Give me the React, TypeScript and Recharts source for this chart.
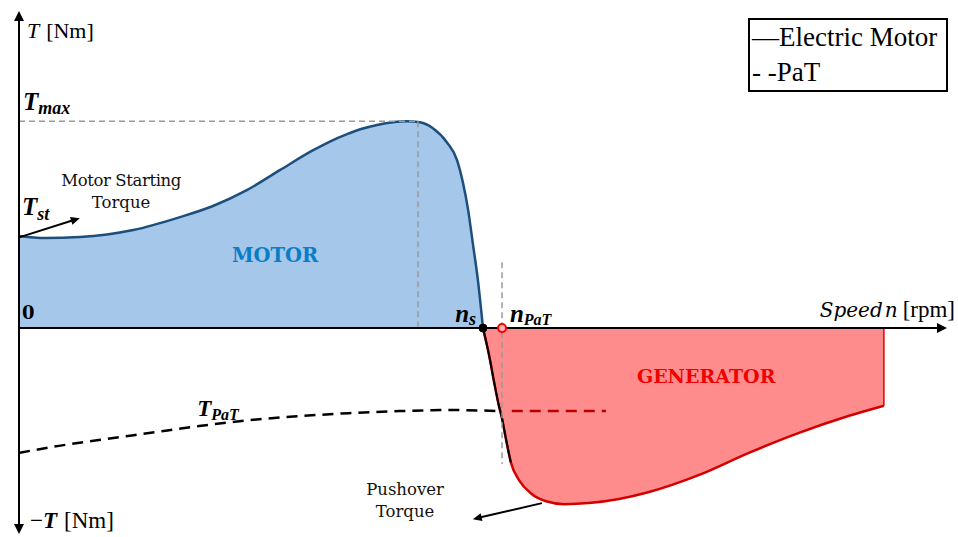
import React from 'react';
import {
  ComposedChart,
  Area,
  Line,
  XAxis,
  YAxis,
  ReferenceLine,
  ReferenceDot,
  Legend,
} from 'recharts';

const TIMES = '"Liberation Serif", "Times New Roman", serif';
const CAMBRIA = '"DejaVu Serif", "Liberation Serif", serif';

// Axis extents (speed in rpm, torque in Nm)
const SPEED_MAX = 2000;
const TORQUE_MIN = -100;
const TORQUE_MAX = 154;

// Electric motor: motoring branch (0 .. n_s)
const motorSpeed = [0, 56, 131, 246, 347, 418, 491, 562, 634, 670, 707, 739, 774, 806, 836, 864, 892, 922, 944, 957, 968, 978, 989, 1000];
const motorTorque = [44.7, 43.7, 44.2, 47.6, 53.9, 59.3, 67.0, 76.7, 86.4, 90.6, 94.2, 96.8, 98.8, 100.0, 100.5, 100.0, 97.1, 90.3, 81.6, 70.4, 57.3, 41.3, 23.3, 0];

// Electric motor: generating branch (n_s .. end)
const genSpeed = [1000, 1013, 1024, 1034, 1041, 1050, 1060, 1078, 1103, 1136, 1175, 1228, 1293, 1358, 1466, 1573, 1681, 1789, 1864];
const genTorque = [0, -13.1, -26.3, -37.5, -43.9, -54.5, -65.2, -73.9, -80.2, -84.1, -85.5, -85.0, -83.0, -79.6, -71.3, -60.6, -50.9, -42.6, -37.7];

// Pump-as-turbine torque curve
const patSpeed = [0, 86, 172, 280, 388, 496, 603, 711, 819, 927, 1041];
const patTorque = [-60.6, -57.2, -54.4, -51.0, -47.6, -44.7, -42.8, -41.3, -40.3, -39.8, -40.3];
const patExtSpeed = [1062, 1265];
const patExtTorque = [-40.3, -40.3];

// Characteristic points
const N_S = 1000; // synchronous speed
const N_PAT = 1041; // PaT operating speed
const N_TMAX = 860; // speed marked for breakdown torque
const T_MAX = Math.max(...motorTorque); // breakdown torque
const N_END = genSpeed[genSpeed.length - 1];
const T_END = genTorque[genTorque.length - 1];

const legendLabels = ['—Electric Motor', '- -PaT'];

const zip = (xs: number[], ys: number[]) => xs.map((n, i) => ({ n, T: ys[i] }));
const motorData = zip(motorSpeed, motorTorque);
const genData = zip(genSpeed, genTorque);
const genSteepData = genData.slice(0, 7);
const patData = zip(patSpeed, patTorque);
const patExtData = zip(patExtSpeed, patExtTorque);

// Line with optional arrowheads, used for the axes and the callouts
function arrowShape(opts: { start?: boolean; end?: boolean; len?: number; half?: number; width?: number }) {
  const L = opts.len ?? 10;
  const H = opts.half ?? 5;
  const w = opts.width ?? 2;
  return (p: any) => {
    const { x1, y1, x2, y2 } = p;
    const a = Math.atan2(y2 - y1, x2 - x1);
    const head = (tx: number, ty: number, ang: number) => {
      const bx = tx - L * Math.cos(ang);
      const by = ty - L * Math.sin(ang);
      return `${tx},${ty} ${bx + H * Math.sin(ang)},${by - H * Math.cos(ang)} ${bx - H * Math.sin(ang)},${by + H * Math.cos(ang)}`;
    };
    const sx = opts.start ? x1 + (L - 2) * Math.cos(a) : x1;
    const sy = opts.start ? y1 + (L - 2) * Math.sin(a) : y1;
    const ex = opts.end ? x2 - (L - 2) * Math.cos(a) : x2;
    const ey = opts.end ? y2 - (L - 2) * Math.sin(a) : y2;
    return (
      <g>
        <line x1={sx} y1={sy} x2={ex} y2={ey} stroke="#000" strokeWidth={w} />
        {opts.end && <polygon points={head(x2, y2, a)} fill="#000" />}
        {opts.start && <polygon points={head(x1, y1, a + Math.PI)} fill="#000" />}
      </g>
    );
  };
}

// Text placed at a data coordinate
const at = (render: (x: number, y: number) => React.ReactNode) => (p: any) => <g>{render(p.cx, p.cy)}</g>;

const LegendBox = () => (
  <div
    style={{
      border: '2px solid #000',
      width: 200,
      boxSizing: 'border-box',
      background: '#fff',
      fontFamily: TIMES,
      fontSize: 27,
      lineHeight: '35px',
      color: '#000',
      paddingLeft: 2,
      whiteSpace: 'pre',
    }}
  >
    {legendLabels.map((l) => (
      <div key={l}>{l}</div>
    ))}
  </div>
);

export default function App() {
  return (
    <div style={{ position: 'absolute', left: 0, top: 0, background: '#fff' }}>
      <ComposedChart
        width={958}
        height={537}
        margin={{ top: 11, right: 11, bottom: 3, left: 19 }}
      >
        <XAxis type="number" dataKey="n" domain={[0, SPEED_MAX]} hide allowDataOverflow />
        <YAxis type="number" domain={[TORQUE_MIN, TORQUE_MAX]} hide allowDataOverflow />

        <Area
          data={motorData}
          dataKey="T"
          type="monotone"
          baseValue={0}
          stroke="#1d4f7c"
          strokeWidth={2.5}
          fill="#a5c8ea"
          fillOpacity={1}
          isAnimationActive={false}
        />
        <Area
          data={genData}
          dataKey="T"
          type="monotone"
          baseValue={0}
          stroke="#d40000"
          strokeWidth={2.5}
          fill="#ff8c8c"
          fillOpacity={1}
          isAnimationActive={false}
        />
        <Line
          data={genSteepData}
          dataKey="T"
          type="monotone"
          stroke="#000"
          strokeWidth={2}
          dot={false}
          isAnimationActive={false}
        />
        <Line
          data={patData}
          dataKey="T"
          type="monotone"
          stroke="#000"
          strokeWidth={2.5}
          strokeDasharray="11 7"
          dot={false}
          isAnimationActive={false}
        />
        <Line
          data={patExtData}
          dataKey="T"
          type="linear"
          stroke="#b80000"
          strokeWidth={2.5}
          strokeDasharray="11 7"
          dot={false}
          isAnimationActive={false}
        />

        {/* guide lines */}
        <ReferenceLine
          segment={[{ x: 0, y: T_MAX }, { x: N_TMAX, y: T_MAX }]}
          stroke="#9a9a9a"
          strokeWidth={1.5}
          strokeDasharray="6 4"
          ifOverflow="visible"
        />
        <ReferenceLine
          segment={[{ x: N_TMAX, y: T_MAX }, { x: N_TMAX, y: 0 }]}
          stroke="#9a9a9a"
          strokeWidth={1.5}
          strokeDasharray="6 4"
          ifOverflow="visible"
        />
        <ReferenceLine
          segment={[{ x: N_PAT, y: 32 }, { x: N_PAT, y: -66 }]}
          stroke="#9a9a9a"
          strokeWidth={1.5}
          strokeDasharray="6 4"
          ifOverflow="visible"
        />
        <ReferenceLine
          segment={[{ x: N_END, y: T_END }, { x: N_END, y: 0 }]}
          stroke="#e00000"
          strokeWidth={1.5}
          ifOverflow="visible"
        />

        {/* axes */}
        <ReferenceLine
          segment={[{ x: 0, y: TORQUE_MIN }, { x: 0, y: TORQUE_MAX }]}
          shape={arrowShape({ start: true, end: true })}
          ifOverflow="visible"
        />
        <ReferenceLine
          segment={[{ x: 0, y: 0 }, { x: SPEED_MAX, y: 0 }]}
          shape={arrowShape({ end: true })}
          ifOverflow="visible"
        />

        {/* callout arrows */}
        <ReferenceLine
          segment={[{ x: 2, y: 44.2 }, { x: 131, y: 53.4 }]}
          shape={arrowShape({ end: true, len: 9, half: 4 })}
          ifOverflow="visible"
        />
        <ReferenceLine
          segment={[{ x: 1127, y: -85 }, { x: 978, y: -92.8 }]}
          shape={arrowShape({ end: true, len: 9, half: 4 })}
          ifOverflow="visible"
        />

        <ReferenceDot x={N_S} y={0} r={4} fill="#000" stroke="#000" ifOverflow="visible" />
        <ReferenceDot x={N_PAT} y={0} r={4} fill="#ffb4b4" stroke="#ff0000" strokeWidth={2} ifOverflow="visible" />

        {/* labels */}
        <ReferenceDot
          x={17}
          y={140.9}
          ifOverflow="visible"
          shape={at((x, y) => (
            <text x={x} y={y} fontFamily={TIMES} fontSize={22} fill="#000">
              <tspan fontStyle="italic">T</tspan>
              <tspan dx={7}>[Nm]</tspan>
            </text>
          ))}
        />
        <ReferenceDot
          x={8.6}
          y={105.9}
          ifOverflow="visible"
          shape={at((x, y) => (
            <text x={x} y={y} fontFamily={TIMES} fontWeight="bold" fontStyle="italic" fill="#000">
              <tspan fontSize={25}>T</tspan>
              <tspan fontSize={18} dy={4}>max</tspan>
            </text>
          ))}
        />
        <ReferenceDot
          x={220}
          y={69}
          ifOverflow="visible"
          shape={at((x, y) => (
            <text x={x} y={y} fontFamily={CAMBRIA} fontSize={16.5} fill="#111" textAnchor="middle">
              <tspan x={x} letterSpacing={-0.4}>Motor Starting</tspan>
              <tspan x={x} dy={22}>Torque</tspan>
            </text>
          ))}
        />
        <ReferenceDot
          x={6.5}
          y={54.9}
          ifOverflow="visible"
          shape={at((x, y) => (
            <text x={x} y={y} fontFamily={TIMES} fontWeight="bold" fontStyle="italic" fill="#000">
              <tspan fontSize={25}>T</tspan>
              <tspan fontSize={18} dy={5}>st</tspan>
            </text>
          ))}
        />
        <ReferenceDot
          x={6.5}
          y={4.4}
          ifOverflow="visible"
          shape={at((x, y) => (
            <text x={x} y={y} fontFamily={CAMBRIA} fontWeight="bold" fontSize={18} fill="#000">
              0
            </text>
          ))}
        />
        <ReferenceDot
          x={552}
          y={32}
          ifOverflow="visible"
          shape={at((x, y) => (
            <text x={x} y={y} fontFamily={CAMBRIA} fontWeight="bold" fontSize={19.5} fill="#0b7dc6" textAnchor="middle">
              MOTOR
            </text>
          ))}
        />
        <ReferenceDot
          x={940}
          y={3}
          ifOverflow="visible"
          shape={at((x, y) => (
            <text x={x} y={y} fontFamily={TIMES} fontWeight="bold" fontStyle="italic" fill="#000">
              <tspan fontSize={25}>n</tspan>
              <tspan fontSize={18} dy={3}>s</tspan>
            </text>
          ))}
        />
        <ReferenceDot
          x={1058}
          y={3}
          ifOverflow="visible"
          shape={at((x, y) => (
            <text x={x} y={y} fontFamily={TIMES} fontWeight="bold" fontStyle="italic" fill="#000">
              <tspan fontSize={25}>n</tspan>
              <tspan fontSize={16} dy={3}>PaT</tspan>
            </text>
          ))}
        />
        <ReferenceDot
          x={SPEED_MAX}
          y={5.3}
          ifOverflow="visible"
          shape={at((x, y) => (
            <text x={x + 8} y={y} fill="#000" textAnchor="end">
              <tspan fontFamily={CAMBRIA} fontStyle="italic" fontSize={20}>Speed</tspan>
              <tspan fontFamily={CAMBRIA} fontStyle="italic" fontSize={20} dx={2}>n</tspan>
              <tspan fontFamily={TIMES} fontSize={23} dx={5}>[rpm]</tspan>
            </text>
          ))}
        />
        <ReferenceDot
          x={1481}
          y={-26.7}
          ifOverflow="visible"
          shape={at((x, y) => (
            <text x={x} y={y} fontFamily={CAMBRIA} fontWeight="bold" fontSize={19} fill="#ee0000" textAnchor="middle">
              GENERATOR
            </text>
          ))}
        />
        <ReferenceDot
          x={384}
          y={-42.7}
          ifOverflow="visible"
          shape={at((x, y) => (
            <text x={x} y={y} fontFamily={TIMES} fontWeight="bold" fontStyle="italic" fill="#000">
              <tspan fontSize={23}>T</tspan>
              <tspan fontSize={16} dy={4}>PaT</tspan>
            </text>
          ))}
        />
        <ReferenceDot
          x={832}
          y={-81.1}
          ifOverflow="visible"
          shape={at((x, y) => (
            <text x={x} y={y} fontFamily={CAMBRIA} fontSize={16.5} fill="#111" textAnchor="middle">
              <tspan x={x}>Pushover</tspan>
              <tspan x={x} dy={22}>Torque</tspan>
            </text>
          ))}
        />
        <ReferenceDot
          x={23.7}
          y={-97.1}
          ifOverflow="visible"
          shape={at((x, y) => (
            <text x={x} y={y} fill="#000">
              <tspan fontFamily={TIMES} fontSize={23}>−</tspan>
              <tspan fontFamily={TIMES} fontWeight="bold" fontStyle="italic" fontSize={23}>T</tspan>
              <tspan fontFamily={TIMES} fontSize={23} dx={7}>[Nm]</tspan>
            </text>
          ))}
        />

        <Legend
          layout="horizontal"
          verticalAlign="middle"
          align="center"
          wrapperStyle={{ left: 748, top: 18, width: 200, height: 'auto' }}
          content={() => <LegendBox />}
        />
      </ComposedChart>
    </div>
  );
}
